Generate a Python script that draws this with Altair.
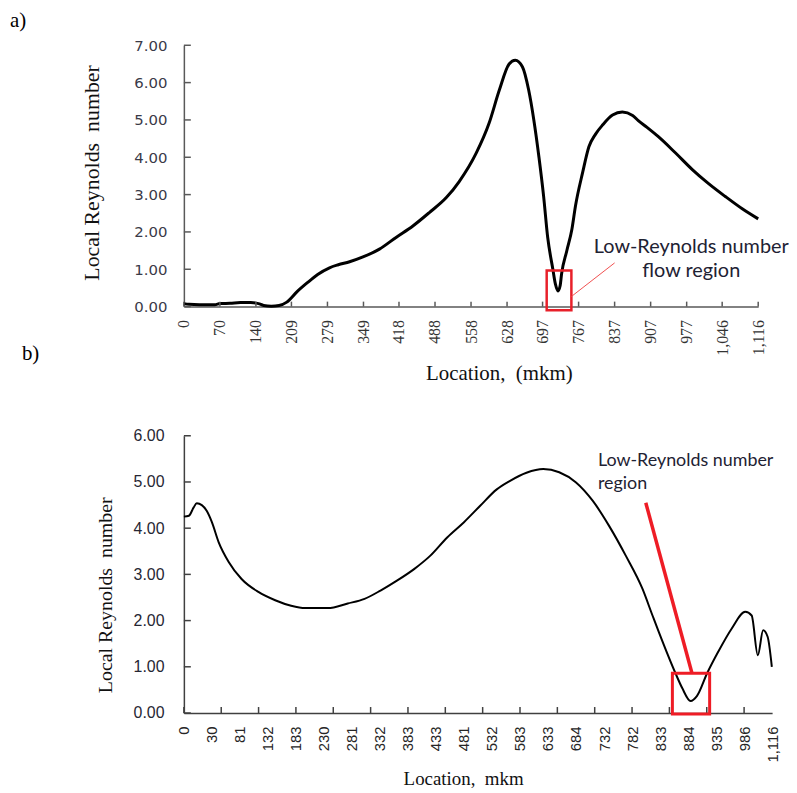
import json
import altair as alt
import pandas as pd

# ---------------- data: panel a) ----------------
TOP_LOC = [0, 10, 30, 60, 70, 90, 110, 130, 145, 155, 170, 185, 200, 220, 240, 260, 283, 300,
           322, 348, 380, 413, 445, 477, 510, 535, 568, 593, 613, 632, 644, 658, 670, 680,
           690, 699, 707, 717, 722, 727, 731, 734, 744, 754, 761, 775, 787, 800, 814, 833, 852,
           872, 883, 900, 922, 955, 988, 1019, 1052, 1085, 1116]
TOP_RE = [0.08, 0.06, 0.05, 0.05, 0.08, 0.09, 0.11, 0.11, 0.08, 0.03, 0.01, 0.03, 0.12, 0.40,
          0.64, 0.86, 1.04, 1.12, 1.20, 1.33, 1.54, 1.86, 2.16, 2.52, 2.92, 3.35, 4.11,
          4.91, 5.80, 6.50, 6.60, 6.42, 5.80, 5.00, 4.00, 2.96, 1.85, 1.00, 0.60, 0.42, 0.55,
          0.88, 1.49, 2.07, 2.70, 3.60, 4.28, 4.62, 4.87, 5.13, 5.21, 5.12, 4.98, 4.80, 4.55,
          4.12, 3.67, 3.30, 2.95, 2.62, 2.35]
TOP_X_LABELS = [0, 70, 140, 209, 279, 349, 418, 488, 558, 628, 697, 767, 837, 907, 977, 1046, 1116]
TOP_Y_TICKS = [0, 1, 2, 3, 4, 5, 6, 7]
TOP_BOX = {"x": [705], "x2": [753], "y": [0.97], "y2": [-0.10]}
TOP_LEADER = {"x": [753], "x2": [837], "y": [0.27], "y2": [1.17]}
TOP_NOTE = {"x": [986, 986], "y": [1.60, 0.94], "t": ["Low-Reynolds number", "flow region"]}

# ---------------- data: panel b) ----------------
BOT_POS = [0, 0.18, 0.35, 0.46, 0.64, 0.82, 1.0, 1.24, 1.6, 2.06, 2.66, 3.26, 3.83, 4.33, 5.14,
           5.85, 6.45, 7.02, 7.62, 8.23, 8.79, 9.4, 10.0, 10.57, 11.17, 11.63, 12.23, 12.83,
           13.4, 14.0, 14.6, 15.18, 15.78, 16.37, 16.73, 16.95, 17.55, 17.79, 18.09, 18.32,
           18.68, 19.08, 19.56, 20.04, 20.27, 20.49, 20.68, 20.84, 20.99]
BOT_RE = [4.25, 4.27, 4.45, 4.54, 4.50, 4.37, 4.13, 3.70, 3.27, 2.90, 2.62, 2.44, 2.32, 2.27,
          2.27, 2.37, 2.47, 2.65, 2.87, 3.12, 3.40, 3.80, 4.13, 4.48, 4.84, 5.02, 5.20, 5.28,
          5.21, 4.99, 4.59, 4.05, 3.40, 2.69, 2.11, 1.76, 0.86, 0.54, 0.26, 0.37, 0.86, 1.33,
          1.83, 2.19, 2.11, 1.25, 1.79, 1.65, 1.00]
BOT_X_LABELS = ["0", "30", "81", "132", "183", "230", "281", "332", "383", "433", "481", "532",
                "583", "633", "684", "732", "782", "833", "884", "935", "986", "1,116"]
BOT_Y_TICKS = [0, 1, 2, 3, 4, 5, 6]
BOT_TICK_POS = [k * 4 / 3 for k in range(16)]
BOT_BOX = {"x": [17.44], "x2": [18.77], "y": [0.86], "y2": [-0.02]}
BOT_LEADER = {"x": [16.49], "x2": [18.14], "y": [4.55], "y2": [0.86]}
BOT_NOTE = {"x": [14.78, 14.78], "y": [5.45, 4.95], "t": ["Low-Reynolds number", "region"]}

TW, TH = 578, 263
BW, BH = 592, 279
SERIF = "Liberation Serif"
NOTE_COLOR = "#1e2233"

# ---------------- panel a) ----------------
xs_t = alt.Scale(domain=[0, 1116], nice=False, zero=False)
ys_t = alt.Scale(domain=[0, 7], nice=False)
AX_T = "#595959"

top_line = alt.Chart(pd.DataFrame({"x": TOP_LOC, "y": TOP_RE})).mark_line(
    color="black", strokeWidth=3, interpolate="monotone"
).encode(
    x=alt.X("x:Q", scale=xs_t, axis=alt.Axis(
        values=TOP_X_LABELS, tickCount=100, format=",d", labelAngle=-90, labelFont=SERIF,
        labelFontSize=16, labelColor="#333333", labelPadding=13, labelOverlap=False,
        ticks=False, tickSize=0, grid=False, domainColor=AX_T, domainWidth=1.5,
        title="Location,\u00a0 (mkm)", titleFont=SERIF, titleFontSize=21,
        titleFontWeight="normal", titleColor="#111111", titlePadding=7, titleX=317)),
    y=alt.Y("y:Q", scale=ys_t, axis=alt.Axis(
        values=TOP_Y_TICKS, tickCount=100, format=".2f", labelFont="DejaVu Sans",
        labelFontSize=15, labelColor="#3a3a48", labelPadding=17, labelOverlap=False,
        ticks=False, tickSize=0, grid=False, domainColor=AX_T, domainWidth=1.5,
        title="Local Reynolds\u00a0 number", titleFont=SERIF, titleFontSize=22,
        titleFontWeight="normal", titleColor="#111111", titlePadding=31, titleY=128)),
)
top_xt = alt.Chart(pd.DataFrame({"x": TOP_X_LABELS})).mark_rule(color=AX_T, strokeWidth=1.5).encode(
    x=alt.X("x:Q", scale=xs_t), y=alt.value(TH), y2=alt.value(TH - 5))
top_yt = alt.Chart(pd.DataFrame({"y": TOP_Y_TICKS})).mark_rule(color=AX_T, strokeWidth=1.5).encode(
    y=alt.Y("y:Q", scale=ys_t), x=alt.value(0), x2=alt.value(7))
top_box = alt.Chart(pd.DataFrame(TOP_BOX)).mark_rect(
    fillOpacity=0, stroke="#e8202a", strokeWidth=2.5).encode(
    x=alt.X("x:Q", scale=xs_t), x2="x2:Q", y=alt.Y("y:Q", scale=ys_t), y2="y2:Q")
top_lead = alt.Chart(pd.DataFrame(TOP_LEADER)).mark_rule(color="#f05050", strokeWidth=1).encode(
    x=alt.X("x:Q", scale=xs_t), x2="x2:Q", y=alt.Y("y:Q", scale=ys_t), y2="y2:Q")
top_note = alt.Chart(pd.DataFrame(TOP_NOTE)).mark_text(
    font="Lato", fontSize=20, color=NOTE_COLOR, align="center", baseline="middle").encode(
    x=alt.X("x:Q", scale=xs_t), y=alt.Y("y:Q", scale=ys_t), text="t:N")

top = alt.layer(top_line, top_xt, top_yt, top_box, top_lead, top_note).properties(
    width=TW, height=TH,
    title=alt.TitleParams(text="a)", anchor="start", frame="group", dx=-175, offset=-10,
                          baseline="alphabetic", font=SERIF, fontSize=21,
                          fontWeight="normal", color="black"))

# ---------------- panel b) ----------------
xs_b = alt.Scale(domain=[0, 21], nice=False, zero=False)
ys_b = alt.Scale(domain=[0, 6], nice=False)
AX_B = "#404040"

bot_line = alt.Chart(pd.DataFrame({"x": BOT_POS, "y": BOT_RE})).mark_line(
    color="black", strokeWidth=2, interpolate="monotone"
).encode(
    x=alt.X("x:Q", scale=xs_b, axis=alt.Axis(
        values=list(range(len(BOT_X_LABELS))), tickCount=100,
        labelExpr=json.dumps(BOT_X_LABELS) + "[datum.value]",
        labelAngle=-90, labelFont="Liberation Sans", labelFontSize=15, labelColor="#262626",
        labelPadding=13, labelOverlap=False, ticks=False, tickSize=0, grid=False,
        domainColor=AX_B, domainWidth=1.5, title="Location,\u00a0 mkm", titleFont=SERIF,
        titleFontSize=19, titleFontWeight="normal", titleColor="#111111", titlePadding=8,
        titleX=281)),
    y=alt.Y("y:Q", scale=ys_b, axis=alt.Axis(
        values=BOT_Y_TICKS, tickCount=100, format=".2f", labelFont="Liberation Sans",
        labelFontSize=16, labelColor="#262633", labelPadding=20, labelOverlap=False,
        ticks=False, tickSize=0, grid=False, domainColor=AX_B, domainWidth=1.5,
        title="Local Reynolds\u00a0 number", titleFont=SERIF, titleFontSize=20,
        titleFontWeight="normal", titleColor="#111111", titlePadding=18, titleY=160)),
)
bot_xt = alt.Chart(pd.DataFrame({"x": BOT_TICK_POS})).mark_rule(color=AX_B, strokeWidth=1.5).encode(
    x=alt.X("x:Q", scale=xs_b), y=alt.value(BH), y2=alt.value(BH - 6))
bot_yt = alt.Chart(pd.DataFrame({"y": BOT_Y_TICKS})).mark_rule(color=AX_B, strokeWidth=1.5).encode(
    y=alt.Y("y:Q", scale=ys_b), x=alt.value(0), x2=alt.value(7))
bot_lead = alt.Chart(pd.DataFrame(BOT_LEADER)).mark_rule(color="#ee1c25", strokeWidth=3.5).encode(
    x=alt.X("x:Q", scale=xs_b), x2="x2:Q", y=alt.Y("y:Q", scale=ys_b), y2="y2:Q")
bot_box = alt.Chart(pd.DataFrame(BOT_BOX)).mark_rect(
    fillOpacity=0, stroke="#ee1c25", strokeWidth=3).encode(
    x=alt.X("x:Q", scale=xs_b), x2="x2:Q", y=alt.Y("y:Q", scale=ys_b), y2="y2:Q")
bot_note = alt.Chart(pd.DataFrame(BOT_NOTE)).mark_text(
    font="Lato", fontSize=18, color=NOTE_COLOR, align="left", baseline="middle").encode(
    x=alt.X("x:Q", scale=xs_b), y=alt.Y("y:Q", scale=ys_b), text="t:N")

bottom = alt.layer(bot_line, bot_xt, bot_yt, bot_lead, bot_box, bot_note).properties(
    width=BW, height=BH,
    title=alt.TitleParams(text="b)", anchor="start", frame="group", dx=-163, offset=47,
                          baseline="alphabetic", font=SERIF, fontSize=21,
                          fontWeight="normal", color="black"))

chart = alt.vconcat(top, bottom, spacing=130, bounds="flush").properties(
    padding={"left": 2, "top": 0, "right": 0, "bottom": 0},
    background="white",
).configure_view(stroke=None).configure_axis(labelOverlap=False, labelBound=False, labelFlush=False)

chart.save("out.html", embed_options={"renderer": "svg", "actions": False})
